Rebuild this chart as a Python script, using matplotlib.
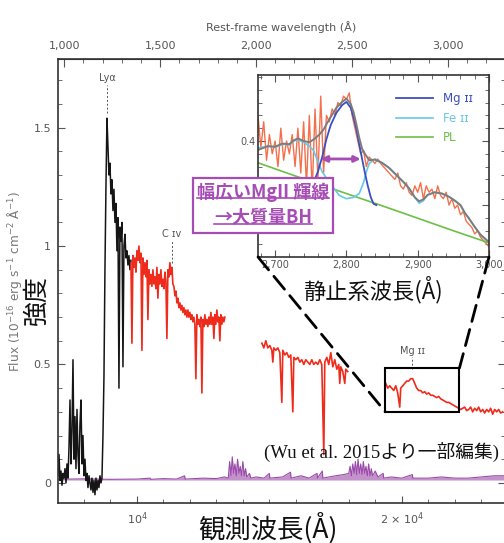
import numpy as np
import matplotlib
matplotlib.use("Agg")
import matplotlib.pyplot as plt
from matplotlib.patches import Rectangle, ConnectionPatch
from matplotlib.lines import Line2D
from matplotlib.ticker import MultipleLocator, FixedLocator, FuncFormatter

# --- observed -> rest frame factor (1+z) ---
one_plus_z = 7.25

blk_wave = [7019, 7057, 7094, 7132, 7170, 7208, 7245, 7283, 7321, 7358, 7396, 7434, 7472, 7509,
            7547, 7585, 7623, 7660, 7698, 7736, 7774, 7811, 7849, 7887, 7925, 7962, 8000, 8038,
            8075, 8113, 8151, 8189, 8226, 8264, 8302, 8340, 8377, 8415, 8453, 8491, 8528, 8566,
            8604, 8642, 8679, 8717, 8755, 8792, 8830, 8868, 8906, 8943, 8981, 9019, 9057, 9094,
            9132, 9170, 9208, 9245, 9283, 9321, 9358, 9396, 9434, 9472, 9509, 9547, 9585, 9623,
            9660, 9698, 9736, 9774]
blk_flux = [0.03, 0.12, 0.01, 0.05, -0.01, 0.04, 0.02, 0.06, 0.00, 0.08, 0.02, 0.15, 0.35, 0.08,
            0.22, 0.52, 0.10, 0.28, 0.06, 0.31, 0.12, 0.04, 0.25, 0.35, 0.08, 0.20, 0.03, 0.10,
            0.01, 0.04, -0.02, 0.03, 0.00, -0.03, 0.02, -0.04, 0.01, -0.05, 0.02, -0.03, 0.01, -0.02,
            0.03, 0.00, 0.02, 0.20, 0.45, 0.90, 1.25, 1.54, 1.42, 1.30, 1.35, 1.22, 1.28, 1.15,
            1.24, 1.10, 1.18, 0.98, 1.12, 0.40, 1.08, 1.02, 1.10, 0.49, 1.00, 1.05, 0.95, 0.98,
            0.92, 0.96, 0.90, 0.94]

red1_wave = [9774, 9811, 9849, 9887, 9925, 9962, 10000, 10038, 10075, 10113, 10151, 10189,
             10226, 10264, 10302, 10340, 10377, 10415, 10453, 10491, 10528, 10566, 10604, 10642,
             10679, 10717, 10755, 10792, 10830, 10868, 10906, 10943, 10981, 11019, 11057, 11094,
             11132, 11170, 11208, 11245, 11283, 11321, 11358, 11396, 11434, 11472, 11509, 11547,
             11585, 11623, 11660, 11698, 11736, 11774, 11811, 11849, 11887, 11925, 11962, 12000,
             12038, 12075, 12113, 12151, 12189, 12226, 12264, 12302, 12340, 12377, 12415, 12453,
             12491, 12528, 12566, 12604, 12642, 12679, 12717, 12755, 12792, 12830, 12868, 12906,
             12943, 12981, 13019, 13057, 13094, 13132, 13170, 13208, 13245, 13283, 13321]
red1_flux = [0.93, 0.59, 0.96, 0.91, 0.95, 0.89, 0.98, 0.94, 1.00, 0.93, 0.97, 0.56,
             0.95, 0.88, 0.93, 0.87, 0.94, 0.69, 0.90, 0.84, 0.88, 0.83, 0.90, 0.84,
             0.87, 0.82, 0.91, 0.78, 0.88, 0.84, 0.90, 0.83, 0.86, 0.82, 0.89, 0.85,
             0.61, 0.90, 0.87, 0.93, 0.88, 0.91, 0.84, 0.83, 0.79, 0.81, 0.76, 0.78,
             0.74, 0.76, 0.73, 0.75, 0.72, 0.74, 0.71, 0.73, 0.70, 0.73, 0.70, 0.72,
             0.69, 0.71, 0.68, 0.70, 0.67, 0.44, 0.71, 0.67, 0.69, 0.66, 0.70, 0.38,
             0.69, 0.66, 0.71, 0.67, 0.69, 0.66, 0.70, 0.67, 0.72, 0.67, 0.70, 0.61,
             0.71, 0.67, 0.73, 0.68, 0.70, 0.60, 0.71, 0.67, 0.70, 0.68, 0.70]

red2_wave = [14717, 14792, 14868, 14943, 15019, 15094, 15132, 15170, 15245, 15321, 15396, 15472,
             15509, 15585, 15660, 15736, 15811, 15887, 15925, 16000, 16075, 16151, 16226, 16302,
             16377, 16453, 16528, 16604, 16679, 16755, 16830, 16906, 16981, 17057, 17094, 17170,
             17245, 17321, 17396, 17472, 17547, 17623, 17660, 17698, 17774, 17849, 17887, 17962]
red2_flux = [0.59, 0.57, 0.60, 0.57, 0.58, 0.56, 0.51, 0.57, 0.56, 0.57, 0.55, 0.34,
             0.56, 0.54, 0.55, 0.53, 0.54, 0.30, 0.53, 0.52, 0.53, 0.51, 0.52, 0.50,
             0.52, 0.51, 0.50, 0.52, 0.50, 0.51, 0.50, 0.52, 0.50, 0.12, 0.51, 0.53,
             0.50, 0.55, 0.49, 0.52, 0.48, 0.50, 0.42, 0.49, 0.47, 0.42, 0.48, 0.47]

red3_wave = [19396, 19472, 19547, 19623, 19698, 19774, 19849, 19925, 19962, 20038, 20113, 20189,
             20264, 20340, 20415, 20491, 20566, 20642, 20717, 20792, 20868, 20943, 21019, 21094,
             21170, 21245, 21321, 21396, 21472, 21547, 21623, 21698, 21774, 21849, 21925, 22000,
             22075, 22151, 22226, 22302, 22377, 22453, 22528, 22604, 22679, 22755, 22830, 22906,
             22981, 23057, 23132, 23208, 23283, 23358, 23434, 23509, 23585, 23660, 23736, 23811]
red3_flux = [0.42, 0.40, 0.41, 0.40, 0.39, 0.41, 0.38, 0.32, 0.40, 0.41, 0.42, 0.43,
             0.43, 0.44, 0.44, 0.42, 0.40, 0.39, 0.39, 0.38, 0.385, 0.375, 0.38, 0.37,
             0.37, 0.365, 0.36, 0.365, 0.355, 0.35, 0.345, 0.34, 0.34, 0.335, 0.33, 0.325,
             0.32, 0.315, 0.31, 0.315, 0.32, 0.305, 0.31, 0.32, 0.30, 0.315, 0.305, 0.32,
             0.30, 0.31, 0.295, 0.31, 0.30, 0.315, 0.29, 0.31, 0.30, 0.31, 0.295, 0.30]

# noise spectrum (purple)
pur_wave = [7019, 8000, 9000, 10000, 10500, 10520, 11000, 11500, 11800, 11820, 12000, 12500,
            13000, 13300, 13450, 13500, 13550, 13600, 13650, 13700, 13750, 13800, 13850, 13900,
            13950, 14000, 14050, 14100, 14150, 14250, 14300, 14500, 14800, 15000, 15020, 15500,
            15800, 15820, 16200, 16500, 16800, 16820, 17000, 17020, 17500, 17800, 18000, 18050,
            18100, 18150, 18200, 18250, 18300, 18350, 18400, 18450, 18500, 18550, 18600, 18650,
            18700, 18750, 18800, 18850, 18900, 19000, 19100, 19300, 19320, 19600, 20000, 20400,
            20420, 21000, 21500, 22000, 22500, 23000, 23500, 23900]
pur_flux = [0.015, 0.017, 0.015, 0.016, 0.02, 0.015, 0.018, 0.016, 0.03, 0.016, 0.017, 0.02,
            0.018, 0.025, 0.02, 0.09, 0.03, 0.11, 0.04, 0.08, 0.03, 0.10, 0.04, 0.07,
            0.03, 0.09, 0.03, 0.06, 0.025, 0.04, 0.02, 0.025, 0.02, 0.04, 0.02, 0.025,
            0.045, 0.02, 0.03, 0.02, 0.04, 0.02, 0.05, 0.02, 0.03, 0.035, 0.04, 0.07,
            0.03, 0.08, 0.04, 0.09, 0.035, 0.10, 0.04, 0.08, 0.035, 0.09, 0.04, 0.07,
            0.03, 0.08, 0.03, 0.06, 0.03, 0.05, 0.025, 0.04, 0.02, 0.025, 0.02, 0.035,
            0.02, 0.02, 0.025, 0.02, 0.02, 0.025, 0.03, 0.03]

# line labels: name, observed wavelength, label height, tick top, tick bottom
line_names = ["Ly\u03b1", "C \u026a\u1d20", "Mg \u026a\u026a"]
line_wave = [8870, 11320, 20400]
line_label_y = [1.71, 1.05, 0.555]
line_tick_top = [1.68, 1.02, 0.53]
line_tick_bot = [1.56, 0.93, 0.48]

# zoom box in main panel
box_wave = [19380, 22180]
box_flux = [0.30, 0.485]

# --- inset (rest-frame) ---
ins_wave = np.arange(2676, 3001, 4)
ins_flux = [0.44, 0.39, 0.43, 0.37, 0.41, 0.38, 0.40, 0.36, 0.42, 0.37, 0.40, 0.38,
            0.41, 0.36, 0.42, 0.35, 0.43, 0.33, 0.44, 0.32, 0.45, 0.34, 0.47, 0.35,
            0.44, 0.43, 0.45, 0.44, 0.46, 0.455, 0.47, 0.465, 0.475, 0.44, 0.42, 0.40,
            0.38, 0.385, 0.36, 0.375, 0.37, 0.365, 0.372, 0.365, 0.36, 0.355, 0.35, 0.345,
            0.34, 0.35, 0.33, 0.325, 0.335, 0.32, 0.315, 0.33, 0.32, 0.335, 0.31, 0.33,
            0.32, 0.325, 0.31, 0.33, 0.315, 0.31, 0.32, 0.30, 0.31, 0.295, 0.30, 0.285,
            0.29, 0.275, 0.27, 0.265, 0.255, 0.26, 0.25, 0.245, 0.24, 0.235]

tot_wave = [2676, 2690, 2700, 2710, 2720, 2726, 2732, 2740, 2748, 2756, 2762, 2768, 2774, 2780,
            2786, 2794, 2800, 2806, 2810, 2814, 2818, 2822, 2826, 2832, 2840, 2850, 2860, 2870,
            2880, 2888, 2896, 2902, 2908, 2914, 2924, 2934, 2944, 2952, 2960, 2966, 2972, 2980,
            2988, 2996, 3000]
tot_flux = [0.386, 0.392, 0.391, 0.396, 0.395, 0.401, 0.404, 0.400, 0.398, 0.404, 0.410, 0.418,
            0.430, 0.441, 0.452, 0.461, 0.466, 0.458, 0.445, 0.426, 0.405, 0.388, 0.380, 0.370,
            0.371, 0.366, 0.358, 0.347, 0.336, 0.326, 0.312, 0.306, 0.309, 0.316, 0.320, 0.318,
            0.313, 0.307, 0.300, 0.288, 0.279, 0.266, 0.254, 0.246, 0.242]

mg_wave = [2740, 2750, 2756, 2760, 2766, 2772, 2778, 2786, 2794, 2800, 2806, 2810, 2814, 2818,
           2822, 2826, 2830, 2834, 2838, 2842]
mg_flux = [0.339, 0.336, 0.341, 0.352, 0.375, 0.403, 0.425, 0.444, 0.456, 0.461, 0.452, 0.437,
           0.418, 0.395, 0.372, 0.350, 0.330, 0.313, 0.302, 0.300]

fe_wave = [2676, 2690, 2700, 2710, 2720, 2726, 2732, 2740, 2748, 2754, 2760, 2766, 2772, 2780,
           2790, 2800, 2810, 2818, 2824, 2828, 2832, 2840, 2850, 2860, 2870, 2880, 2888, 2896,
           2902, 2908, 2914, 2924, 2934, 2944, 2952, 2960, 2966, 2972, 2980, 2988, 2996, 3000]
fe_flux = [0.389, 0.392, 0.390, 0.395, 0.394, 0.400, 0.402, 0.398, 0.392, 0.385, 0.368, 0.352,
           0.342, 0.330, 0.315, 0.310, 0.312, 0.318, 0.335, 0.352, 0.365, 0.372, 0.366, 0.358,
           0.347, 0.336, 0.326, 0.312, 0.303, 0.307, 0.316, 0.320, 0.318, 0.313, 0.307, 0.300,
           0.288, 0.279, 0.266, 0.254, 0.246, 0.242]

pl_wave = [2676, 2750, 2850, 2950, 3000]
pl_flux = [0.366, 0.337, 0.299, 0.260, 0.241]

# FWHM arrow
arrow_wave = [2764, 2820]
arrow_flux = 0.372

rest_ticks = [1000, 1500, 2000, 2500, 3000]

c_red = "#ef2b1c"
c_ins = "#f2603a"
c_pur = "#9b4aa9"
c_mg = "#3b4fc2"
c_fe = "#66c8e8"
c_pl = "#6cbf45"
c_note = "#a64db5"
c_tick = "#555555"
jp = ["Noto Sans CJK JP", "DejaVu Sans"]

fig = plt.figure(figsize=(5.04, 5.43), dpi=100)
ax = fig.add_axes([58 / 504, 1 - 503 / 543, 447 / 504, 444 / 543])

ax.fill_between(pur_wave, 0.012, pur_flux, color=c_pur, alpha=0.6, lw=0)
ax.plot(pur_wave, pur_flux, color=c_pur, lw=0.8)
ax.plot(blk_wave, blk_flux, color="#151515", lw=1.1)
for w, f in [(red1_wave, red1_flux), (red2_wave, red2_flux), (red3_wave, red3_flux)]:
    ax.plot(w, f, color=c_red, lw=1.2)

for name, w, ly, t0, t1 in zip(line_names, line_wave, line_label_y, line_tick_top, line_tick_bot):
    ax.text(w, ly, name, ha="center", va="center", fontsize=7, color=c_tick)
    ax.plot([w, w], [t1, t0], color=c_tick, lw=0.7, ls=(0, (2, 2)))

ax.add_patch(Rectangle((box_wave[0], box_flux[0]), box_wave[1] - box_wave[0],
                       box_flux[1] - box_flux[0], fill=False, ec="black", lw=1.5, zorder=5))

ax.set_xlim(7019, 23900)
ax.set_ylim(-0.085, 1.79)
ax.xaxis.set_major_locator(FixedLocator([10000, 20000]))
ax.xaxis.set_major_formatter(FuncFormatter(lambda v, p: {10000: "10$^4$", 20000: "2 \u00d7 10$^4$"}.get(int(round(v)), "")))
ax.xaxis.set_minor_locator(MultipleLocator(1000))
ax.yaxis.set_major_locator(FixedLocator([0, 0.5, 1, 1.5]))
ax.yaxis.set_major_formatter(FuncFormatter(lambda v, p: "%g" % v))
ax.yaxis.set_minor_locator(MultipleLocator(0.1))
ax.tick_params(which="both", direction="in", right=True, colors=c_tick, labelsize=8, labelcolor=c_tick)
ax.tick_params(which="major", length=5, pad=5)
ax.tick_params(which="minor", length=3)
for s in ax.spines.values():
    s.set_color("#333333")
    s.set_linewidth(1.2)

sec = ax.secondary_xaxis("top", functions=(lambda x: x / one_plus_z, lambda x: x * one_plus_z))
sec.xaxis.set_major_locator(FixedLocator(rest_ticks))
sec.xaxis.set_minor_locator(FixedLocator(np.arange(1000, 3300, 100)))
sec.xaxis.set_major_formatter(FuncFormatter(lambda v, p: "{:,.0f}".format(v)))
sec.tick_params(which="both", direction="in", colors=c_tick, labelsize=8, labelcolor=c_tick)
sec.tick_params(which="major", length=6, pad=6)
sec.tick_params(which="minor", length=3)
sec.spines["top"].set_color("#333333")
sec.set_xlabel("Rest-frame wavelength (\u00c5)", fontsize=8, color=c_tick, labelpad=7)

# --- inset ---
axin = fig.add_axes([258 / 504, 1 - 257 / 543, 231 / 504, 182 / 543])
axin.plot(ins_wave, ins_flux, color=c_ins, lw=1.0, alpha=0.9)
axin.plot(pl_wave, pl_flux, color=c_pl, lw=1.2, label="PL")
axin.plot(fe_wave, fe_flux, color=c_fe, lw=1.2, label="Fe \u026a\u026a")
axin.plot(mg_wave, mg_flux, color=c_mg, lw=1.3, label="Mg \u026a\u026a")
axin.plot(tot_wave, tot_flux, color="#7c7c7c", lw=1.4)
axin.annotate("", xy=(arrow_wave[1], arrow_flux), xytext=(arrow_wave[0], arrow_flux),
              arrowprops=dict(arrowstyle="<|-|>", color=c_note, lw=2, mutation_scale=9,
                              shrinkA=0, shrinkB=0))
axin.set_xlim(2676, 3000)
axin.set_ylim(0.219, 0.503)
axin.xaxis.set_major_locator(MultipleLocator(100))
axin.xaxis.set_minor_locator(MultipleLocator(20))
axin.xaxis.set_major_formatter(FuncFormatter(lambda v, p: "{:,.0f}".format(v)))
axin.yaxis.set_major_locator(FixedLocator([0.3, 0.4]))
axin.yaxis.set_major_formatter(FuncFormatter(lambda v, p: "0.4" if abs(v - 0.4) < 1e-6 else ""))
axin.yaxis.set_minor_locator(MultipleLocator(0.02))
axin.tick_params(which="both", direction="in", top=True, right=True, colors=c_tick,
                 labelsize=7, labelcolor=c_tick, pad=2)
axin.tick_params(which="major", length=5)
axin.tick_params(which="minor", length=3)
for s in axin.spines.values():
    s.set_color("#333333")
    s.set_linewidth(1.2)
h, l = axin.get_legend_handles_labels()
axin.legend(h[::-1], l[::-1], loc="upper right", bbox_to_anchor=(0.95, 0.93), frameon=False,
            fontsize=8.5, labelcolor="linecolor", handlelength=3.2, labelspacing=0.55,
            borderaxespad=0)

for corner_ax, corner_box in [((0, 0), (box_wave[0], box_flux[0])), ((1, 0), (box_wave[1], box_flux[1]))]:
    con = ConnectionPatch(xyA=corner_ax, coordsA=axin.transAxes, xyB=corner_box,
                          coordsB=ax.transData, color="black", lw=2, ls=(0, (6, 3)), zorder=6)
    fig.add_artist(con)

# --- text ---
fig.text(15 / 504, 1 - 282 / 543, "Flux (10$^{-16}$ erg s$^{-1}$ cm$^{-2}$ \u00c5$^{-1}$)",
         rotation=90, ha="center", va="center", fontsize=8.7, color="#777777")
fig.text(37 / 504, 1 - 300 / 543, "強度", rotation=90, ha="center", va="center",
         fontsize=18, family=jp, color="#111111")
fig.text(268 / 504, 1 - 528 / 543, "観測波長(Å)", ha="center", va="center", fontsize=19,
         family=jp, color="#111111")
fig.text(373 / 504, 1 - 290 / 543, "静止系波長(Å)", ha="center", va="center", fontsize=16,
         family=jp, color="#111111")
fig.text(381 / 504, 1 - 452 / 543, "(Wu et al. 2015より一部編集)", ha="center", va="center",
         fontsize=13.5, family=["Liberation Serif", "Noto Sans CJK JP"], color="#111111")

note1 = fig.text(263 / 504, 1 - 192 / 543, "幅広いMgII 輝線", ha="center", va="center",
                 fontsize=13, family=jp, weight="bold", color=c_note, zorder=11)
note2 = fig.text(263 / 504, 1 - 218 / 543, "→大質量BH", ha="center", va="center",
                 fontsize=13, family=jp, weight="bold", color=c_note, zorder=11)

fig.canvas.draw()
r = fig.canvas.get_renderer()
inv = fig.transFigure.inverted()
ext = []
for t in [note1, note2]:
    bb = t.get_window_extent(r)
    (x0, y0), (x1, y1) = inv.transform([[bb.x0, bb.y0], [bb.x1, bb.y1]])
    ext.append((x0, y0, x1, y1))
    uy = y0 + 4 / 543
    fig.add_artist(Line2D([x0, x1], [uy, uy], color=c_note, lw=1.2, zorder=11))
bx0 = min(e[0] for e in ext) - 4 / 504
bx1 = max(e[2] for e in ext) + 4 / 504
by0 = min(e[1] for e in ext) - 5 / 543
by1 = max(e[3] for e in ext) + 4 / 543
fig.add_artist(Rectangle((bx0, by0), bx1 - bx0, by1 - by0, transform=fig.transFigure,
                         fc="white", ec=c_note, lw=1.6, zorder=10))

fig.savefig("out.png", dpi=100)
